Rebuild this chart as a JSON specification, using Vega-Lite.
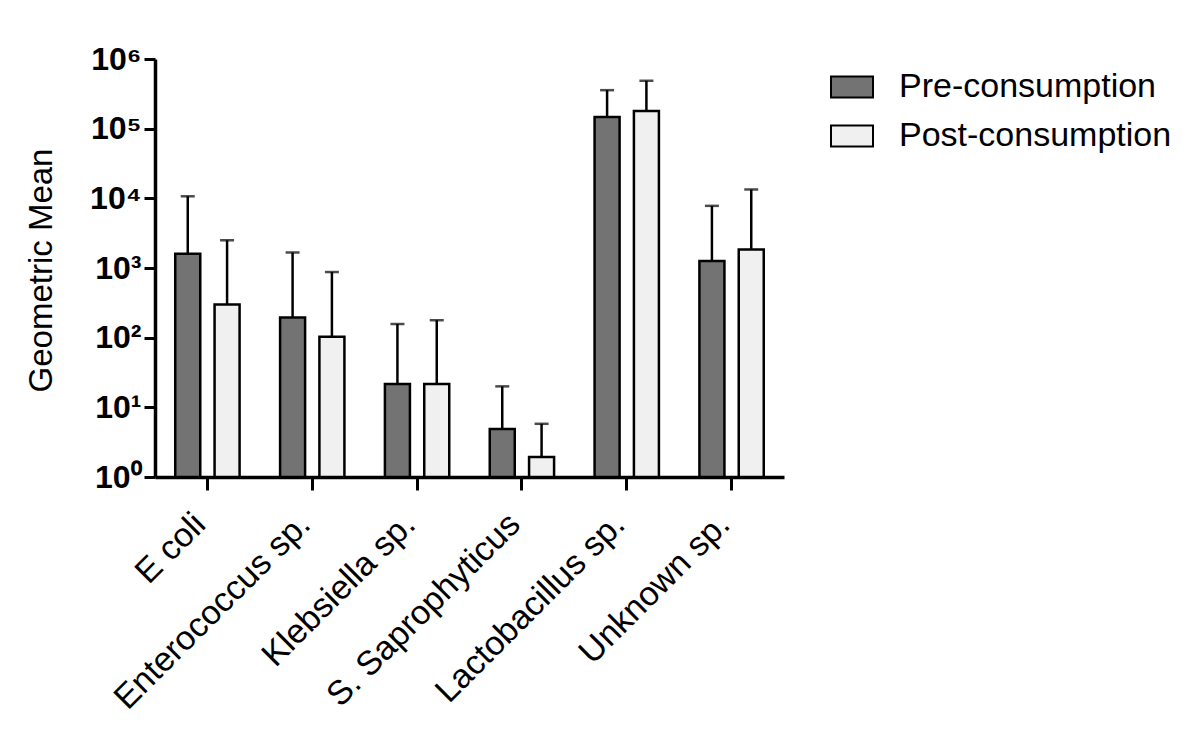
{
  "$schema": "https://vega.github.io/schema/vega-lite/v6.json",
  "width": 629,
  "height": 418,
  "autosize": {"type": "none"},
  "padding": {"left": 155, "top": 59, "right": 416, "bottom": 271},
  "background": "white",
  "config": {
    "view": {"stroke": null},
    "font": "Liberation Sans",
    "axis": {"grid": false}
  },
  "data": {
    "values": [
      {"species": "E coli", "phase": "Pre-consumption", "mean": 1600, "upper": 10700},
      {"species": "E coli", "phase": "Post-consumption", "mean": 300, "upper": 2500},
      {"species": "Enterococcus sp.", "phase": "Pre-consumption", "mean": 195, "upper": 1670},
      {"species": "Enterococcus sp.", "phase": "Post-consumption", "mean": 103, "upper": 875},
      {"species": "Klebsiella sp.", "phase": "Pre-consumption", "mean": 21.6, "upper": 157},
      {"species": "Klebsiella sp.", "phase": "Post-consumption", "mean": 21.6, "upper": 178},
      {"species": "S. Saprophyticus", "phase": "Pre-consumption", "mean": 4.9, "upper": 20},
      {"species": "S. Saprophyticus", "phase": "Post-consumption", "mean": 1.93, "upper": 5.8},
      {"species": "Lactobacillus sp.", "phase": "Pre-consumption", "mean": 147000, "upper": 357000},
      {"species": "Lactobacillus sp.", "phase": "Post-consumption", "mean": 180000, "upper": 487000},
      {"species": "Unknown sp.", "phase": "Pre-consumption", "mean": 1260, "upper": 7800},
      {"species": "Unknown sp.", "phase": "Post-consumption", "mean": 1850, "upper": 13400}
    ]
  },
  "encoding": {
    "x": {
      "field": "species",
      "type": "nominal",
      "sort": null,
      "scale": {"paddingInner": 0, "paddingOuter": 0},
      "axis": {
        "title": null,
        "domainColor": "black",
        "domainWidth": 3.5,
        "tickColor": "black",
        "tickWidth": 3,
        "tickSize": 13,
        "labelAngle": -45,
        "labelAlign": "right",
        "labelBaseline": "alphabetic",
        "labelFontSize": 34,
        "labelColor": "black",
        "labelPadding": 36,
        "labelDx": 4,
        "labelLimit": 0
      }
    },
    "xOffset": {
      "field": "phase",
      "type": "nominal",
      "sort": ["Pre-consumption", "Post-consumption"],
      "scale": {"paddingInner": 0.364, "paddingOuter": 0.515}
    }
  },
  "layer": [
    {
      "mark": {"type": "bar", "stroke": "black", "strokeWidth": 2.5},
      "encoding": {
        "y": {
          "field": "mean",
          "type": "quantitative",
          "scale": {"type": "log", "domain": [1, 1000000]},
          "axis": {
            "title": "Geometric Mean",
            "titleFontSize": 33,
            "titleFontWeight": "normal",
            "titleColor": "black",
            "titleX": -97,
            "titleY": 211,
            "titleAngle": -90,
            "titleAlign": "center",
            "titleBaseline": "bottom",
            "values": [1, 10, 100, 1000, 10000, 100000, 1000000],
            "labelExpr": "'10' + ['⁰','¹','²','³','⁴','⁵','⁶'][round(log(datum.value)/LN10)]",
            "labelFontSize": 32,
            "labelFontWeight": "bold",
            "labelColor": "black",
            "labelPadding": 3,
            "domainColor": "black",
            "domainWidth": 3.5,
            "tickColor": "black",
            "tickWidth": 3,
            "tickSize": 11
          }
        },
        "y2": {"datum": 1},
        "fill": {
          "field": "phase",
          "type": "nominal",
          "scale": {
            "domain": ["Pre-consumption", "Post-consumption"],
            "range": ["#737373", "#f0f0f0"]
          },
          "legend": {
            "title": null,
            "orient": "none",
            "legendX": 675,
            "legendY": 6,
            "symbolType": "M-1,-0.5H1V0.5H-1Z",
            "symbolSize": 1764,
            "symbolStrokeColor": "black",
            "symbolStrokeWidth": 2,
            "labelFontSize": 34,
            "labelColor": "black",
            "labelOffset": 25,
            "labelLimit": 0,
            "rowPadding": 10
          }
        }
      }
    },
    {
      "mark": {"type": "rule", "color": "black", "strokeWidth": 2.5},
      "encoding": {
        "y": {"field": "mean", "type": "quantitative"},
        "y2": {"field": "upper"}
      }
    },
    {
      "mark": {"type": "tick", "orient": "horizontal", "color": "black", "size": 14, "thickness": 2.5},
      "encoding": {
        "y": {"field": "upper", "type": "quantitative"}
      }
    }
  ]
}
